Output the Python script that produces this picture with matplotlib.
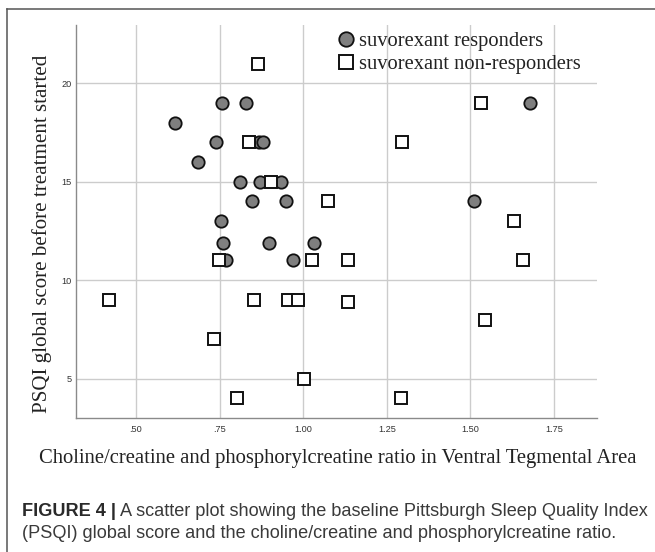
import matplotlib.pyplot as plt

# responders (grey circles)
resp_x = [0.758, 0.830, 1.677, 0.616, 0.739, 0.869, 0.880, 0.686,
          0.812, 0.872, 0.935, 0.846, 0.950, 1.512, 0.754, 0.759,
          0.897, 1.031, 0.770, 0.969]
resp_y = [19, 19, 19, 18, 17, 17, 17, 16,
          15, 15, 15, 14, 14, 14, 13, 11.9,
          11.9, 11.9, 11, 11]

# non-responders (open squares)
non_x = [0.865, 1.533, 0.837, 1.295, 0.905, 1.073, 1.629, 0.749,
         1.025, 1.133, 1.658, 0.418, 0.854, 0.954, 0.984, 1.135,
         1.544, 0.734, 1.001, 0.803, 1.291]
non_y = [21, 19, 17, 17, 15, 14, 13, 11,
         11, 11, 11, 9, 9, 9, 9, 8.9,
         8, 7, 5, 4, 4]

xticks = [0.50, 0.75, 1.00, 1.25, 1.50, 1.75]
xticklabels = ['.50', '.75', '1.00', '1.25', '1.50', '1.75']
yticks = [5, 10, 15, 20]

serif = ['Liberation Serif', 'DejaVu Serif']
sans = ['Liberation Sans', 'DejaVu Sans']

fig = plt.figure(figsize=(6.55, 5.52), dpi=100)
ax = fig.add_axes([0.116, 0.2428, 0.7947, 0.7119])

ax.plot(resp_x, resp_y, linestyle='none', marker='o', markersize=8.9,
        markerfacecolor='#7f7f7f', markeredgecolor='#111111',
        markeredgewidth=1.3, zorder=3, label='suvorexant responders')
ax.plot(non_x, non_y, linestyle='none', marker='s', markersize=8.1,
        markerfacecolor='white', markeredgecolor='#111111',
        markeredgewidth=1.4, zorder=4, label='suvorexant non-responders')

ax.set_xlim(0.3206, 1.877)
ax.set_ylim(3.0, 22.96)
ax.set_xticks(xticks)
ax.set_xticklabels(xticklabels)
ax.set_yticks(yticks)
ax.tick_params(length=0, labelsize=6.6, labelcolor='#333333')
ax.tick_params(axis='x', pad=5)
ax.tick_params(axis='y', pad=3)
for lab in ax.get_xticklabels() + ax.get_yticklabels():
    lab.set_family(sans)

ax.grid(True, color='#cccccc', linewidth=1.0, zorder=0)
ax.set_axisbelow(True)
for side in ['top', 'right']:
    ax.spines[side].set_visible(False)
for side in ['left', 'bottom']:
    ax.spines[side].set_color('#8a8a8a')
    ax.spines[side].set_linewidth(1.0)

leg = ax.legend(loc='upper left', bbox_to_anchor=(0.502, 0.982), frameon=False,
                prop={'family': serif, 'size': 14.8}, markerscale=1.17,
                handlelength=0.8, handletextpad=0.25, labelspacing=0.15,
                borderpad=0, borderaxespad=0)
for t in leg.get_texts():
    t.set_color('#222222')

fig.text(0.5156, 1 - 458 / 552, 'Choline/creatine and phosphorylcreatine ratio in Ventral Tegmental Area',
         family=serif, fontsize=14.85, color='#222222', ha='center', va='center')
fig.text(0.0641, 1 - 234 / 552, 'PSQI global score before treatment started',
         family=serif, fontsize=15.1, color='#222222', ha='center', va='center',
         rotation=90)

# caption box (only top and left edges visible)
fig.add_artist(plt.Line2D([7.3 / 655, 7.3 / 655], [0, 1 - 9 / 552],
                          color='#555555', linewidth=1.1))
fig.add_artist(plt.Line2D([7.3 / 655, 1], [1 - 9 / 552, 1 - 9 / 552],
                          color='#555555', linewidth=1.1))

bold = fig.text(22 / 655, 1 - 516 / 552, 'FIGURE 4 |', family=sans,
                fontweight='bold', fontsize=13.1, color='#2a2a2a', va='baseline')
fig.canvas.draw()
bb = bold.get_window_extent(renderer=fig.canvas.get_renderer())
fig.text(bb.x1 / 655 + 4 / 655, 1 - 516 / 552,
         'A scatter plot showing the baseline Pittsburgh Sleep Quality Index',
         family=sans, fontsize=13.1, color='#3a3a3a', va='baseline')
fig.text(22 / 655, 1 - 538 / 552,
         '(PSQI) global score and the choline/creatine and phosphorylcreatine ratio.',
         family=sans, fontsize=13.1, color='#3a3a3a', va='baseline')

fig.savefig('out.png', dpi=100)
